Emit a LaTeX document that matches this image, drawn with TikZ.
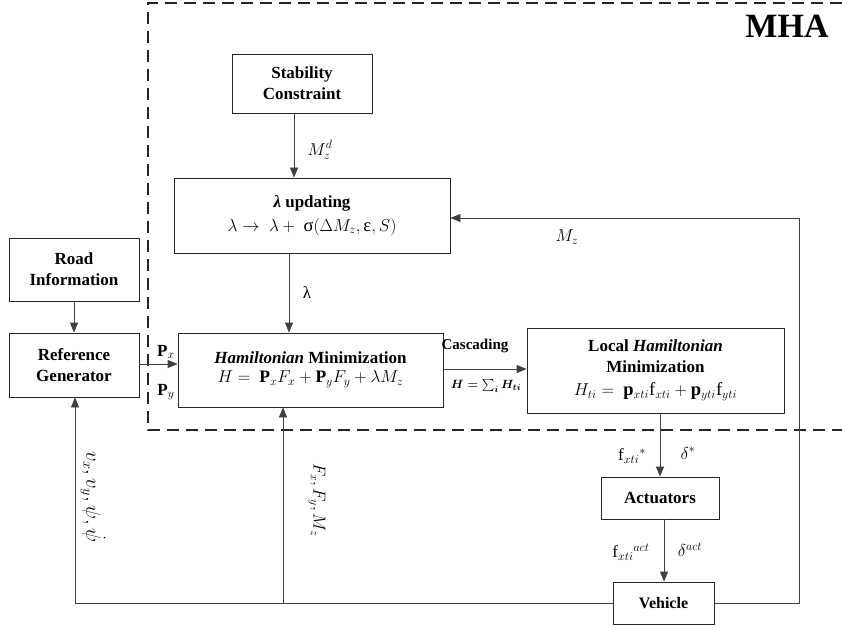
\documentclass[tikz,border=0pt]{standalone}
\usepackage{amsmath}
\usepackage{fontspec}
\setmainfont{Liberation Serif}
\usetikzlibrary{arrows.meta,calc}
\begin{document}
\begin{tikzpicture}[x=1pt,y=-1pt,
  box/.style={draw=black!85,line width=0.8pt,align=center,inner sep=0pt,
    font=\fontsize{17}{21}\selectfont\bfseries},
  conn/.style={draw=black!75,line width=0.8pt},
  arr/.style={conn,-{Triangle[length=10pt,width=8pt]}},
  lbl/.style={font=\fontsize{17}{19}\selectfont,inner sep=0pt},
  mha/.style={draw=black!85,line width=1.6pt,dash pattern=on 12pt off 7pt},
]
\newcommand\fmsize{\fontsize{18.5}{21}\selectfont}
\useasboundingbox (0,0) rectangle (842,628);

% MHA dashed region
\coordinate (mtl) at (148,3);
\coordinate (mbl) at (148,430);
\draw[mha] (842,3) -- (mtl) -- (mbl) -- (842,430);
\node[font=\fontsize{34}{36}\selectfont\bfseries] (mhalabel) at (787,26) {MHA};

% blocks
\node[box,minimum width=140pt,minimum height=59pt] (stab) at (302,83.5) {Stability\\Constraint};
\node[box,minimum width=276pt,minimum height=75pt] (lam) at (312,215.5)
  {\textit{λ} updating\\[3pt]\mdseries\fmsize$\lambda \rightarrow\ \lambda +\ \mbox{σ}(\Delta M_z, \mbox{ε}, S)$};
\node[box,minimum width=130pt,minimum height=63pt] (road) at (74,269.5) {Road\\Information};
\node[box,minimum width=130pt,minimum height=64pt] (ref) at (74,365) {Reference\\Generator};
\node[box,minimum width=265pt,minimum height=74pt] (ham) at (310.5,370)
  {\textit{Hamiltonian} Minimization\\[-2pt]\mdseries\fontsize{17.5}{20}\selectfont$H =\ \mathbf{P}_x F_x + \mathbf{P}_y F_y + \lambda M_z$};
\node[box,minimum width=257pt,minimum height=85pt] (local) at (655.5,370.5)
  {Local \textit{Hamiltonian}\\Minimization\\[2pt]\mdseries\fmsize$H_{ti} =\ \mathbf{p}_{xti}\mathrm{f}_{xti} + \mathbf{p}_{yti}\mathrm{f}_{yti}$};
\node[box,minimum width=118pt,minimum height=42pt] (act) at (660,498) {Actuators};
\node[box,minimum width=101pt,minimum height=42pt,font=\fontsize{16}{19}\selectfont\bfseries] (veh) at (663.5,603) {Vehicle};

% connectors
\draw[arr] ([xshift=-8pt]stab.south) -- ([xshift=-8pt]stab.south |- lam.north);
\draw[arr] ([xshift=-23pt]lam.south) -- ([xshift=-23pt]lam.south |- ham.north);
\draw[arr] (road.south) -- (ref.north);
\draw[arr] ([yshift=1pt]ref.east) -- ([yshift=1pt]ref.east -| ham.west);
\draw[arr] ([yshift=1pt]ham.east) -- ([yshift=1pt]ham.east -| local.west);
\draw[arr] ([xshift=4.5pt]local.south) -- ([xshift=4.5pt]local.south |- act.north);
\draw[arr] ([xshift=4pt]act.south) -- ([xshift=4pt]act.south |- veh.north);

\coordinate (tr) at (799,218);
\coordinate (bm) at (283,603);
\draw[arr] (veh.east) -| (tr) -- (tr -| lam.east);
\draw[arr] (veh.west) -| ([xshift=1pt]ref.south);
\draw[arr] (bm) -- (bm |- ham.south);

% labels
\node[lbl] (lmzd) at (320,150) {$M_z^d$};
\node[lbl] (llam) at (307,293) {λ};
\node[lbl] (lpx) at (166,352) {$\mathbf{P}_x$};
\node[lbl] (lpy) at (166,392) {$\mathbf{P}_y$};
\node[font=\fontsize{15}{17}\selectfont\bfseries,inner sep=0pt] (lcasc) at (475,346) {Cascading};
\node[font=\fontsize{13}{15}\selectfont,inner sep=0pt] (lsum) at (486,386) {$\boldsymbol{H = \sum_i H_{ti}}$};
\node[lbl] (lfs) at (632,456) {$\mathrm{f}_{xti}{}^{*}$};
\node[lbl] (lds) at (688,453) {$\delta^{*}$};
\node[lbl] (lfa) at (631,552) {$\mathrm{f}_{xti}{}^{act}$};
\node[lbl] (lda) at (690,550) {$\delta^{act}$};
\node[lbl] (lmz) at (567,237) {$M_z$};
\node[lbl,rotate=-90,font=\fontsize{19.5}{21}\selectfont] (lv) at (93,497) {$v_x, v_y, \psi, \dot{\psi}$};
\node[lbl,rotate=-90] (lf) at (317,500) {$F_x, F_y, M_z$};
\end{tikzpicture}
\end{document}
